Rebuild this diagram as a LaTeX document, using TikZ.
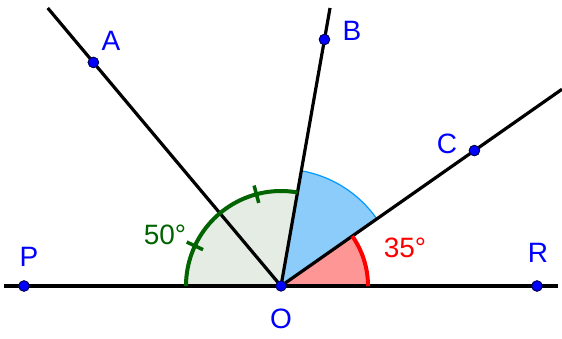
\documentclass[tikz,border=0pt]{standalone}
\usepackage{fontspec}
\setmainfont{Liberation Sans}
\usetikzlibrary{positioning, calc}

\definecolor{ptblue}{RGB}{0,0,255}
\definecolor{anggreen}{RGB}{0,100,0}
\definecolor{anggreenfill}{RGB}{228,236,228}
\definecolor{angblue}{RGB}{0,153,255}
\definecolor{angbluefill}{RGB}{140,204,250}
\definecolor{angred}{RGB}{255,0,0}
\definecolor{angredfill}{RGB}{255,150,150}

\begin{document}
\begin{tikzpicture}[x=1pt, y=1pt,
  ray/.style={line width=3.2pt, black},
  pt/.style={circle, fill=ptblue, draw=black!70!blue, line width=0.8pt, inner sep=0pt, minimum size=10.5pt},
  lbl/.style={anchor=base, font=\fontsize{28}{30}\selectfont},
  tick/.style={line width=3.5pt, anggreen}]
\useasboundingbox (0,0) rectangle (562,338);
% points
\coordinate (O) at (281,52);
\node[pt] (P) at (24,52) {};
\node[pt] (R) at (537,52) {};
\node[pt] (A) at ($(O)+(130:291.9)$) {};
\node[pt] (B) at ($(O)+(80:250.3)$) {};
\node[pt] (C) at ($(O)+(35:236.1)$) {};
\coordinate (Pend) at (4,52);
\coordinate (Rend) at (558,52);
\coordinate (Aend) at ($(O)+(130:362.9)$);
\coordinate (Bend) at ($(O)+(80:282.3)$);
\coordinate (Cend) at ($(O)+(35:343)$);
% angle sectors
\fill[anggreenfill] (O) -- ++(180:95) arc (180:80:95) -- cycle;
\fill[angbluefill] (O) -- ++(80:117) arc (80:35:117) -- cycle;
\draw[angblue, line width=1.2pt] ($(O)+(80:117)$) arc (80:35:117);
\fill[angredfill] (O) -- ++(0:87) arc (0:35:87) -- cycle;
% rays
\draw[ray] (Pend) -- (Rend);
\draw[ray] (O) -- (Aend);
\draw[ray] (O) -- (Bend);
\draw[ray] (O) -- (Cend);
% arcs
\draw[anggreen, line width=4pt] ($(O)+(180:95)$) arc (180:80:95);
\draw[angred, line width=4pt] ($(O)+(0:87)$) arc (0:35:87);
\draw[tick] ($(O)+(105:86)$) -- ($(O)+(105:104)$);
\draw[tick] ($(O)+(155:86)$) -- ($(O)+(155:104)$);
\node[pt] (Odot) at (O) {};
% redraw points on top
\node[pt] at (P) {};
\node[pt] at (R) {};
\node[pt] at (A) {};
\node[pt] at (B) {};
\node[pt] at (C) {};
% labels
\node[lbl, text=ptblue] (Alab) at (111,287) {A};
\node[lbl, text=ptblue] (Blab) at (352,297) {B};
\node[lbl, text=ptblue] (Clab) at (447,185) {C};
\node[lbl, text=ptblue] (Plab) at (29,72) {P};
\node[lbl, text=ptblue] (Rlab) at (538,76) {R};
\node[lbl, text=ptblue] (Olab) at (281,9.5) {O};
\node[lbl, text=anggreen] (ang50) at (165,94) {50°};
\node[lbl, text=angred] (ang35) at (405,81) {35°};
\end{tikzpicture}
\end{document}
